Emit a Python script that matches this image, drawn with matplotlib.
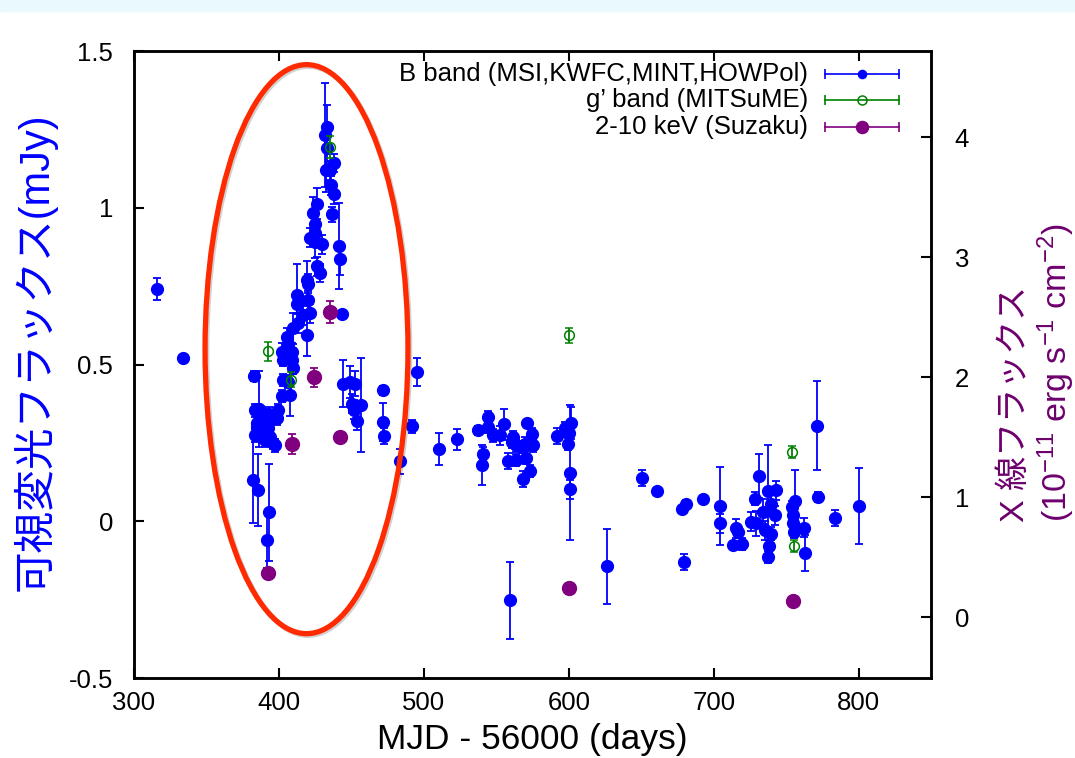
import numpy as np
import matplotlib
matplotlib.use("Agg")
import matplotlib.pyplot as plt
from matplotlib.patches import Ellipse, Rectangle
import matplotlib.patheffects as pe

plt.rcParams['font.family'] = ['Liberation Sans', 'Noto Sans CJK JP', 'DejaVu Sans']
plt.rcParams['mathtext.fontset'] = 'custom'
plt.rcParams['mathtext.rm'] = 'Liberation Sans'
plt.rcParams['mathtext.it'] = 'Liberation Sans:italic'
plt.rcParams['axes.unicode_minus'] = False

# B band (MSI, KWFC, MINT, HOWPol): MJD-56000, flux [mJy], error
b_mjd = [316, 334,
         382.5, 386.2, 383.4, 385.7, 386.9, 391.5, 399.5, 398.4, 384.6, 389.2,
         392.6, 383.4, 388.1, 393.8, 397.2, 390.3, 386.9, 393.3, 384.6, 392.6,
         396.1, 382.3, 385.5, 393.3, 391.5,
         401.9, 407.6, 403.0, 406.4, 409.5, 403.0, 408.8, 401.9, 408.8, 406.4,
         405.3, 409.9, 413.3, 419.1, 416.8, 421.4, 412.6, 419.8, 412.6, 420.2,
         419.1, 428.3, 426.4, 429.4, 421.4, 424.8, 424.8, 424.8, 423.7, 426.0,
         436.3, 438.1, 435.9, 432.4, 435.2, 438.1, 433.3, 431.7, 433.3, 441.6,
         442.1, 443.4,
         444.4, 449.0, 452.4, 450.1, 451.7, 456.3, 453.6, 471.9, 471.5, 472.2,
         483.4, 491.5, 495.4, 510.3, 523.2,
         537.5, 544.4, 544.4, 547.4, 552.4, 555.4, 540.9, 540.2, 558.1, 563.4,
         561.2, 560.5, 563.9, 567.4, 569.7, 571.2, 574.3, 575.0, 570.8, 573.1,
         568.5, 559.3, 592.2, 597.2, 601.2, 600.2, 599.5, 600.7, 600.7, 626.4,
         650.3, 661.2, 678.4, 681.2, 679.3, 692.6, 704.3, 704.3, 715.6, 716.8,
         713.3, 719.8, 731.2, 737.5, 728.3, 743.2, 739.8, 734.0, 742.1, 726.0,
         729.4, 735.2, 739.8, 738.1, 737.5, 756.3, 754.3, 754.7, 754.7, 755.2,
         762.1, 763.2, 771.5, 772.2, 783.4, 800.5]
b_flux = [0.74, 0.52,
          0.463, 0.358, 0.354, 0.354, 0.333, 0.338, 0.354, 0.328, 0.301, 0.301,
          0.296, 0.274, 0.269, 0.269, 0.242, 0.258, 0.280, 0.343, 0.312, 0.312,
          0.250, 0.133, 0.101, 0.029, -0.060,
          0.399, 0.402, 0.450, 0.444, 0.490, 0.516, 0.514, 0.540, 0.540, 0.567,
          0.588, 0.615, 0.631, 0.593, 0.657, 0.663, 0.694, 0.705, 0.721, 0.758,
          0.769, 0.792, 0.813, 0.884, 0.905, 0.891, 0.918, 0.949, 0.984, 1.013,
          0.979, 1.043, 1.072, 1.120, 1.120, 1.143, 1.192, 1.231, 1.258, 0.878,
          0.836, 0.662,
          0.439, 0.444, 0.439, 0.375, 0.356, 0.370, 0.320, 0.418, 0.317, 0.271,
          0.191, 0.303, 0.477, 0.230, 0.261,
          0.290, 0.333, 0.301, 0.274, 0.274, 0.309, 0.216, 0.179, 0.192, 0.195,
          0.269, 0.253, 0.242, 0.237, 0.248, 0.314, 0.278, 0.242, 0.203, 0.161,
          0.134, -0.252, 0.272, 0.296, 0.314, 0.280, 0.246, 0.155, 0.102, -0.144,
          0.138, 0.096, 0.040, 0.054, -0.130, 0.070, 0.049, -0.007, -0.023, -0.034,
          -0.077, -0.073, 0.144, 0.096, 0.072, 0.099, 0.056, 0.030, 0.019, -0.002,
          -0.007, -0.029, -0.039, -0.080, -0.114, 0.064, 0.046, 0.019, -0.007, -0.034,
          -0.021, -0.101, 0.304, 0.078, 0.011, 0.048]
b_err = [0.035, 0.01,
         0.015, 0.12, 0.02, 0.02, 0.02, 0.02, 0.02, 0.02, 0.02, 0.02,
         0.02, 0.02, 0.02, 0.02, 0.02, 0.02, 0.02, 0.02, 0.02, 0.02,
         0.02, 0.14, 0.115, 0.155, 0.09,
         0.02, 0.065, 0.02, 0.02, 0.02, 0.02, 0.02, 0.03, 0.03, 0.03,
         0.03, 0.05, 0.03, 0.065, 0.03, 0.03, 0.03, 0.03, 0.10, 0.03,
         0.06, 0.03, 0.03, 0.03, 0.03, 0.05, 0.03, 0.04, 0.05, 0.05,
         0.025, 0.03, 0.03, 0.07, 0.03, 0.03, 0.06, 0.166, 0.07, 0.138,
         0.05, 0.01,
         0.075, 0.05, 0.04, 0.03, 0.03, 0.15, 0.03, 0.015, 0.06, 0.025,
         0.04, 0.02, 0.045, 0.052, 0.034,
         0.015, 0.02, 0.02, 0.02, 0.03, 0.05, 0.02, 0.064, 0.025, 0.02,
         0.02, 0.02, 0.02, 0.02, 0.02, 0.01, 0.02, 0.02, 0.02, 0.02,
         0.025, 0.122, 0.025, 0.02, 0.05, 0.02, 0.02, 0.215, 0.03, 0.12,
         0.025, 0.01, 0.01, 0.015, 0.025, 0.01, 0.125, 0.03, 0.03, 0.02,
         0.01, 0.02, 0.07, 0.147, 0.02, 0.03, 0.03, 0.04, 0.03, 0.03,
         0.04, 0.03, 0.02, 0.02, 0.02, 0.10, 0.02, 0.02, 0.02, 0.02,
         0.03, 0.058, 0.142, 0.015, 0.025, 0.122]

# g' band (MITSuME)
g_mjd = [392.6, 408.2, 435.4, 600.2, 754.3, 755.2]
g_flux = [0.542, 0.452, 1.194, 0.593, 0.221, -0.079]
g_err = [0.03, 0.025, 0.034, 0.025, 0.02, 0.02]

# 2-10 keV (Suzaku), 1e-11 erg/s/cm2
x_mjd = [392.2, 409.0, 424.1, 435.4, 442.1, 600.2, 754.7]
x_flux = [0.364, 1.442, 1.998, 2.544, 1.503, 0.244, 0.136]
x_err = [0.02, 0.083, 0.077, 0.09, 0.03, 0.02, 0.02]

x_ticks = [300, 400, 500, 600, 700, 800]
y_ticks = [-0.5, 0, 0.5, 1, 1.5]
y_ticklabels = ["-0.5", "0", "0.5", "1", "1.5"]
y2_ticks = [0, 1, 2, 3, 4]

fig = plt.figure(figsize=(10.75, 7.58), dpi=100)
fig.patches.append(Rectangle((0, 1 - 11 / 758), 1, 11 / 758, transform=fig.transFigure,
                             color='#eaf9fd', zorder=0))

ax = fig.add_axes([0.1247, 0.1055, 0.7414, 0.8272])
ax2 = ax.twinx()

ax.errorbar(b_mjd, b_flux, yerr=b_err, fmt='o', color='blue', ms=8.5,
            capsize=2.8, elinewidth=1.3, capthick=1.3, zorder=3)
ax.errorbar(g_mjd, g_flux, yerr=g_err, fmt='o', color='green', mfc='none', ms=7,
            mew=1.1, capsize=2.8, elinewidth=1.3, capthick=1.3, zorder=4)
ax2.errorbar(x_mjd, x_flux, yerr=x_err, fmt='o', color='purple', ms=10,
             capsize=2.8, elinewidth=1.3, capthick=1.3, zorder=3)

ax.set_xlim(300, 850)
ax.set_ylim(-0.5, 1.5)
ax2.set_ylim(-0.508, 4.717)
ax.set_xticks(x_ticks)
ax.set_yticks(y_ticks)
ax.set_yticklabels(y_ticklabels)
ax2.set_yticks(y2_ticks)

ax.tick_params(axis='x', direction='in', length=7, width=1.5, labelsize=18.5, pad=9,
               top=True)
ax.tick_params(axis='y', direction='in', length=7, width=1.5, labelsize=18.5, pad=15,
               right=False)
ax2.tick_params(axis='y', direction='in', length=7, width=1.5, labelsize=18.5, pad=17)
for a in (ax, ax2):
    for s in a.spines.values():
        s.set_linewidth(1.8)

ax.set_xlabel("MJD - 56000 (days)", fontsize=25.5, labelpad=6)

fig.text(35 / 1075, 1 - 352 / 758, "可視変光フラックス(mJy)", rotation=90,
         ha='center', va='center', fontsize=30, color='blue')
fig.text(1015 / 1075, 1 - 522 / 758, "X 線フラックス", rotation=90,
         ha='center', va='bottom', fontsize=24.5, color='#6e006e')
fig.text(1056 / 1075, 1 - 522 / 758, r"(10$^{-11}$ erg s$^{-1}$ cm$^{-2}$)",
         rotation=90, ha='center', va='bottom', fontsize=24.5, color='#6e006e')

# red ellipse highlighting the flare
ell = Ellipse((419, 0.549), 140, 1.815, fill=False, ec='#ff2a00', lw=3.8,
              transform=ax.transData, zorder=10,
              path_effects=[pe.SimpleLineShadow(offset=(1.2, -1.2), shadow_color='k',
                                                alpha=0.18), pe.Normal()])
ax2.add_patch(ell)

# legend (gnuplot style: text right, sample on the right)
legend_rows = [
    ("B band (MSI,KWFC,MINT,HOWPol)", 'blue', 'blue', 5.8),
    ("g\u2019 band (MITSuME)", 'green', 'none', 6.5),
    ("2-10 keV (Suzaku)", 'purple', 'purple', 8.6),
]
for i, (label, c, fc, ms) in enumerate(legend_rows):
    yy = 0.963 - i * 0.0418
    ax2.text(0.846, yy, label, transform=ax2.transAxes, ha='right', va='center',
             fontsize=18.5)
    ax2.plot([0.867, 0.960], [yy, yy], color=c, lw=1.2, transform=ax2.transAxes)
    ax2.plot([0.867, 0.960], [yy, yy], ls='none', marker='|', ms=7, mew=1.2,
             color=c, transform=ax2.transAxes)
    ax2.plot([0.9135], [yy], marker='o', ms=ms, mfc=fc, mec=c, mew=1.1,
             transform=ax2.transAxes)

fig.savefig("out.png", dpi=100)
